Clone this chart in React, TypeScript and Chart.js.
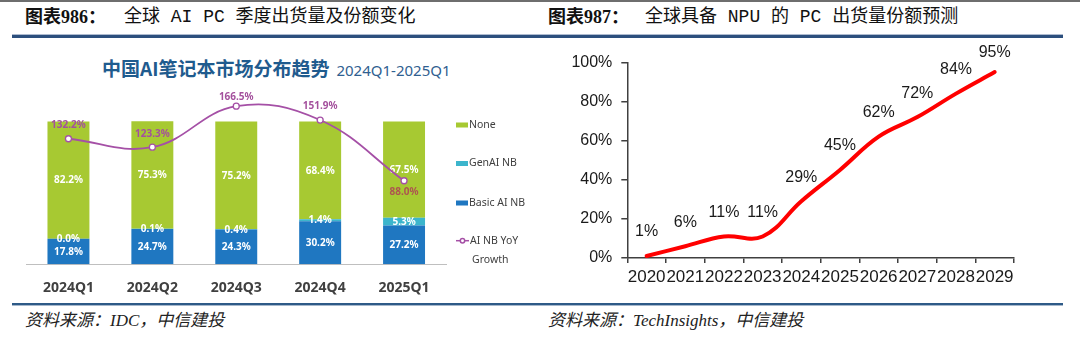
import React, { useEffect, useRef } from 'react';
import { Chart, registerables } from 'chart.js';

Chart.register(...registerables);

// ---------- Data: left chart (China AI notebook market distribution) ----------
const quarters = ['2024Q1', '2024Q2', '2024Q3', '2024Q4', '2025Q1'];
const basicAiNb = [17.8, 24.7, 24.3, 30.2, 27.2];
const genAiNb = [0.0, 0.1, 0.4, 1.4, 5.3];
const noneShare = [82.2, 75.3, 75.2, 68.4, 67.5];
const aiNbYoY = [132.2, 123.3, 166.5, 151.9, 88.0];
const legendNames = ['None', 'GenAI NB', 'Basic AI NB', 'AI NB YoY', 'Growth'];

// ---------- Data: right chart (global NPU PC share forecast) ----------
const years = ['2020', '2021', '2022', '2023', '2024', '2025', '2026', '2027', '2028', '2029'];
const npuShare = [1, 6, 11, 11, 29, 45, 62, 72, 84, 95];
const npuTickStep = 20;
const npuMax = 100;

// ---------- Styles ----------
const C_NONE = '#a7c932';
const C_GEN = '#3cb5cc';
const C_BASIC = '#1f77c1';
const C_LINE = '#a550a6';
const lineLabelBelow = [false, false, false, false, true];
const lineLabelColors = ['#a4519d', '#a4519d', '#a4519d', '#a4519d', '#ad5550'];

const leftPlugin = {
  id: 'leftPlugin',
  afterDatasetDraw(chart: any, args: any) {
    if (args.index !== 0) return;
    const ctx = chart.ctx;
    ctx.save();
    ctx.textAlign = 'center';
    ctx.textBaseline = 'middle';
    ctx.font = 'bold 10px "Noto Sans"';
    ctx.fillStyle = '#ffffff';
    for (let d = 0; d < 3; d++) {
      const meta = chart.getDatasetMeta(d);
      const vals = chart.data.datasets[d].data;
      meta.data.forEach((el: any, i: number) => {
        const y = (el.y + el.base) / 2;
        ctx.fillText(Number(vals[i]).toFixed(1) + '%', el.x, y + 0.5);
      });
    }
    ctx.restore();
  },
  afterDatasetsDraw(chart: any) {
    const ctx = chart.ctx;
    const meta = chart.getDatasetMeta(3);
    ctx.save();
    ctx.textAlign = 'center';
    ctx.textBaseline = 'middle';
    ctx.font = 'bold 10px "Noto Sans"';
    meta.data.forEach((el: any, i: number) => {
      ctx.fillStyle = lineLabelColors[i];
      const y = lineLabelBelow[i] ? el.y + 11 : Math.max(el.y - 13.5, chart.chartArea.top - 3);
      ctx.fillText(aiNbYoY[i].toFixed(1) + '%', el.x, y);
    });
    ctx.restore();
  },
  afterDraw(chart: any) {
    const ctx = chart.ctx;
    const lx = 456;
    const ys = [45, 83.5, 123, 160.7, 180];
    const cols = [C_NONE, C_GEN, C_BASIC];
    ctx.save();
    ctx.font = '10.5px "Noto Sans"';
    ctx.fillStyle = '#404040';
    ctx.textBaseline = 'middle';
    ctx.textAlign = 'left';
    for (let i = 0; i < 3; i++) {
      ctx.fillStyle = cols[i];
      ctx.fillRect(lx, ys[i] - 2.5, 12, 5);
      ctx.fillStyle = '#404040';
      ctx.fillText(legendNames[i], lx + 13, ys[i]);
    }
    ctx.strokeStyle = C_LINE;
    ctx.lineWidth = 1.5;
    ctx.beginPath();
    ctx.moveTo(lx, ys[3]);
    ctx.lineTo(lx + 13, ys[3]);
    ctx.stroke();
    ctx.beginPath();
    ctx.arc(lx + 6.5, ys[3], 2.2, 0, Math.PI * 2);
    ctx.fillStyle = '#fff';
    ctx.fill();
    ctx.stroke();
    ctx.fillStyle = '#404040';
    ctx.fillText(legendNames[3], lx + 14, ys[3]);
    ctx.fillText(legendNames[4], lx + 16, ys[4]);
    ctx.restore();
  },
};

const rightPlugin = {
  id: 'rightPlugin',
  afterDatasetsDraw(chart: any) {
    const ctx = chart.ctx;
    const meta = chart.getDatasetMeta(0);
    ctx.save();
    ctx.font = '16px "Liberation Sans"';
    ctx.fillStyle = '#1a1a1a';
    ctx.textAlign = 'center';
    ctx.textBaseline = 'middle';
    meta.data.forEach((el: any, i: number) => {
      const y = Math.max(el.y - 24, chart.chartArea.top - 10);
      ctx.fillText(npuShare[i] + '%', el.x, y);
    });
    ctx.restore();
  },
};

function LeftChart() {
  const ref = useRef<HTMLCanvasElement>(null);
  useEffect(() => {
    const chart = new Chart(ref.current as HTMLCanvasElement, {
      type: 'bar',
      data: {
        labels: quarters,
        datasets: [
          { type: 'bar', label: 'Basic AI NB', data: basicAiNb, backgroundColor: C_BASIC, stack: 's', yAxisID: 'y', order: 1, categoryPercentage: 1, barPercentage: 0.5 } as any,
          { type: 'bar', label: 'GenAI NB', data: genAiNb, backgroundColor: C_GEN, stack: 's', yAxisID: 'y', order: 1, categoryPercentage: 1, barPercentage: 0.5 } as any,
          { type: 'bar', label: 'None', data: noneShare, backgroundColor: C_NONE, stack: 's', yAxisID: 'y', order: 1, categoryPercentage: 1, barPercentage: 0.5 } as any,
          {
            type: 'line', label: 'AI NB YoY Growth', data: aiNbYoY, yAxisID: 'y2', order: 0,
            borderColor: C_LINE, borderWidth: 1.8, tension: 0.4, pointRadius: 3,
            pointBackgroundColor: '#ffffff', pointBorderColor: C_LINE, pointBorderWidth: 1.3, clip: false,
          } as any,
        ],
      },
      options: {
        responsive: false,
        animation: false,
        events: [],
        layout: { padding: { left: 26.5, right: 94, top: 20, bottom: 0 } },
        plugins: { legend: { display: false }, tooltip: { enabled: false }, title: { display: false } },
        scales: {
          x: {
            stacked: true,
            grid: { display: false },
            border: { display: true, color: '#bfbfbf', width: 1 },
            ticks: { font: { family: 'Noto Sans', size: 14, weight: 'bold' }, color: '#404040', padding: 7, maxRotation: 0, autoSkip: false },
            afterFit: (s: any) => { s.height = 30.7; },
          },
          y: { stacked: true, display: false, min: 0, max: 115 },
          y2: { display: false, min: 0, max: 173, position: 'right' },
        },
      } as any,
      plugins: [leftPlugin],
    });
    return () => chart.destroy();
  }, []);
  return <canvas ref={ref} width={540} height={215} style={{ position: 'absolute', left: 0, top: 80 }} />;
}

function RightChart() {
  const ref = useRef<HTMLCanvasElement>(null);
  useEffect(() => {
    const chart = new Chart(ref.current as HTMLCanvasElement, {
      type: 'line',
      data: {
        labels: years,
        datasets: [
          { label: 'NPU PC share', data: npuShare, borderColor: '#ff0000', borderWidth: 4, tension: 0.4, pointRadius: 0, fill: false, clip: false, borderCapStyle: 'round' } as any,
        ],
      },
      options: {
        responsive: false,
        animation: false,
        events: [],
        layout: { padding: { left: 0, right: 26, top: 22.3, bottom: 0 } },
        plugins: { legend: { display: false }, tooltip: { enabled: false } },
        scales: {
          x: {
            offset: true,
            grid: { offset: true, drawOnChartArea: false, drawTicks: true, tickLength: 5, color: '#404040', lineWidth: 1.5 },
            border: { display: true, color: '#404040', width: 1.5 },
            ticks: { font: { family: 'Liberation Sans', size: 17 }, color: '#1a1a1a', padding: 4, maxRotation: 0, minRotation: 0, autoSkip: false },
            afterFit: (s: any) => { s.height = 42; },
          },
          y: {
            min: 0, max: npuMax,
            grid: { drawOnChartArea: false, drawTicks: true, tickLength: 6, color: '#404040', lineWidth: 1.5 },
            border: { display: true, color: '#404040', width: 1.5 },
            ticks: { stepSize: npuTickStep, callback: (v: any) => v + '%', font: { family: 'Liberation Sans', size: 16 }, color: '#1a1a1a', padding: 9 },
            afterFit: (s: any) => { s.width = 67.3; },
          },
        },
      } as any,
      plugins: [rightPlugin],
    });
    return () => chart.destroy();
  }, []);
  return <canvas ref={ref} width={480} height={260} style={{ position: 'absolute', left: 560, top: 40 }} />;
}

const headBold: React.CSSProperties = { fontFamily: '"Liberation Serif", "Noto Sans CJK SC", serif', fontWeight: 'bold', fontSize: 18, color: '#111' };
const headText: React.CSSProperties = { fontFamily: '"Liberation Mono", "Noto Sans CJK SC", monospace', fontSize: 18, color: '#111' };
const footText: React.CSSProperties = { fontFamily: '"Liberation Serif", "Noto Sans CJK SC", serif', fontStyle: 'italic', fontSize: 17, color: '#222' };

export default function App() {
  return (
    <div style={{ position: 'absolute', left: 0, top: 0, width: 1080, height: 340, background: '#fff', overflow: 'hidden' }}>
      <div style={{ position: 'absolute', left: 0, top: 0, width: 1080, height: 2, background: '#6e6e6e' }} />
      <div style={{ position: 'absolute', left: 25, top: 4, lineHeight: '26px', whiteSpace: 'nowrap', ...headBold }}>图表986：</div>
      <div style={{ position: 'absolute', left: 124, top: 4, lineHeight: '26px', whiteSpace: 'pre', ...headText }}>全球 AI PC 季度出货量及份额变化</div>
      <div style={{ position: 'absolute', left: 548, top: 4, lineHeight: '26px', whiteSpace: 'nowrap', ...headBold }}>图表987：</div>
      <div style={{ position: 'absolute', left: 645, top: 4, lineHeight: '26px', whiteSpace: 'pre', ...headText }}>全球具备 NPU 的 PC 出货量份额预测</div>
      <div style={{ position: 'absolute', left: 12, top: 34, width: 1051, height: 1, background: '#aebbd0' }} />
      <div style={{ position: 'absolute', left: 12, top: 35, width: 1051, height: 3, background: '#2c4f7d' }} />

      <div style={{ position: 'absolute', left: 102, top: 55, lineHeight: '26px', whiteSpace: 'nowrap' }}>
        <span style={{ fontFamily: '"Noto Sans CJK SC", sans-serif', fontWeight: 'bold', fontSize: 19, color: '#1f5b8e' }}>中国AI笔记本市场分布趋势</span>
        <span style={{ fontFamily: '"Noto Sans", sans-serif', fontSize: 15, color: '#2f6090', marginLeft: 7 }}>2024Q1-2025Q1</span>
      </div>

      <LeftChart />
      <RightChart />

      <div style={{ position: 'absolute', left: 12, top: 303, width: 1051, height: 2, background: '#2e5a87' }} />
      <div style={{ position: 'absolute', left: 12, top: 305, width: 1051, height: 1, background: '#a6b8cc' }} />
      <div style={{ position: 'absolute', left: 25, top: 309, lineHeight: '24px', whiteSpace: 'nowrap', ...footText }}>资料来源：IDC，中信建投</div>
      <div style={{ position: 'absolute', left: 548, top: 309, lineHeight: '24px', whiteSpace: 'nowrap', ...footText }}>资料来源：TechInsights，中信建投</div>
    </div>
  );
}
